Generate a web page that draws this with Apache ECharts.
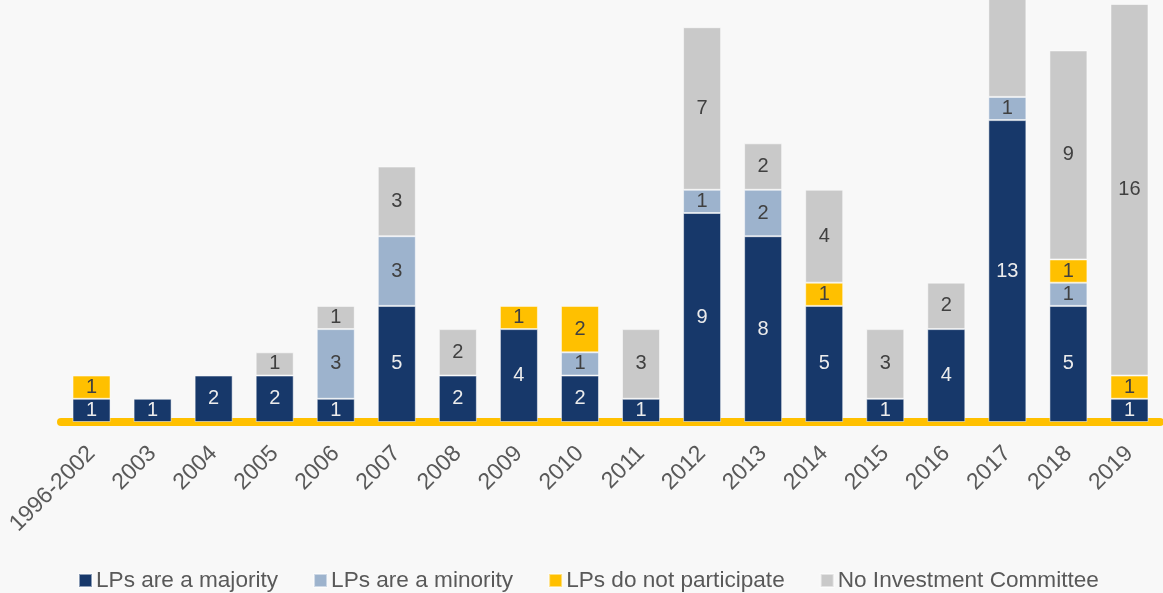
<!DOCTYPE html>
<html>
	<head>
		<meta charset="utf-8" />
		<title>investment committee</title>
		<script src="https://cdn.jsdelivr.net/npm/echarts@6/dist/echarts.min.js"></script>
		<style>
			html, body { margin: 0; padding: 0; background: #f8f8f8; }
		</style>
	</head>
	<body>
		<div id="chart" style="width:1163px;height:593px;"></div>
	</body>
	<script type="text/javascript">

	var years = ['1996-2002', '2003', '2004', '2005', '2006', '2007', '2008', '2009', '2010',
		'2011', '2012', '2013', '2014', '2015', '2016', '2017', '2018', '2019'];
	var majority = [1, 1, 2, 2, 1, 5, 2, 4, 2, 1, 9, 8, 5, 1, 4, 13, 5, 1];
	var minority = [0, 0, 0, 0, 3, 3, 0, 0, 1, 0, 1, 2, 0, 0, 0, 1, 1, 0];
	var noPart   = [1, 0, 0, 0, 0, 0, 0, 1, 2, 0, 0, 0, 1, 0, 0, 0, 1, 1];
	var noIC     = [0, 0, 0, 1, 1, 3, 2, 0, 0, 3, 7, 2, 4, 3, 2, 9, 9, 16];

	var names = ['LPs are a majority', 'LPs are a minority', 'LPs do not participate', 'No Investment Committee'];
	var colors = ['#17386a', '#9db3cd', '#ffc000', '#c9c9c9'];
	var font = 'Liberation Sans';

	function mkSeries(idx, data, labelColor) {
		return {
			name: names[idx],
			type: 'bar',
			stack: 'all',
			barWidth: 38,
			clip: false,
			data: data.map(function (v) { return v === 0 ? null : v; }),
			itemStyle: { color: colors[idx], borderColor: 'rgba(255,255,255,0.5)', borderWidth: 1 },
			label: {
				show: true,
				position: 'inside',
				color: labelColor,
				fontFamily: font,
				fontSize: 20
			}
		};
	}

	var myChart = echarts.init(document.getElementById('chart'));
	var option = {
		backgroundColor: '#f8f8f8',
		animation: false,
		grid: { left: 61, right: 3, top: 4, bottom: 171, containLabel: false },
		legend: {
			bottom: -4,
			left: 73,
			itemWidth: 13,
			itemHeight: 13,
			itemGap: 35,
			icon: 'rect',
			textStyle: { color: '#595959', fontSize: 22.6, fontFamily: font, padding: [0, 0, 0, -1] },
			data: names
		},
		xAxis: {
			type: 'category',
			data: years,
			offset: 4,
			axisLine: { lineStyle: { color: '#ffc000', width: 8 } },
			axisTick: { show: false },
			axisLabel: {
				rotate: 45,
				interval: 0,
				margin: 24,
				color: '#595959',
				fontSize: 23,
				fontFamily: font
			}
		},
		yAxis: {
			type: 'value',
			min: 0,
			max: 18,
			show: false
		},
		series: [
			mkSeries(0, majority, '#ececec'),
			mkSeries(1, minority, '#404040'),
			mkSeries(2, noPart, '#404040'),
			mkSeries(3, noIC, '#404040')
		]
	};
	myChart.setOption(option);

	</script>
</html>
